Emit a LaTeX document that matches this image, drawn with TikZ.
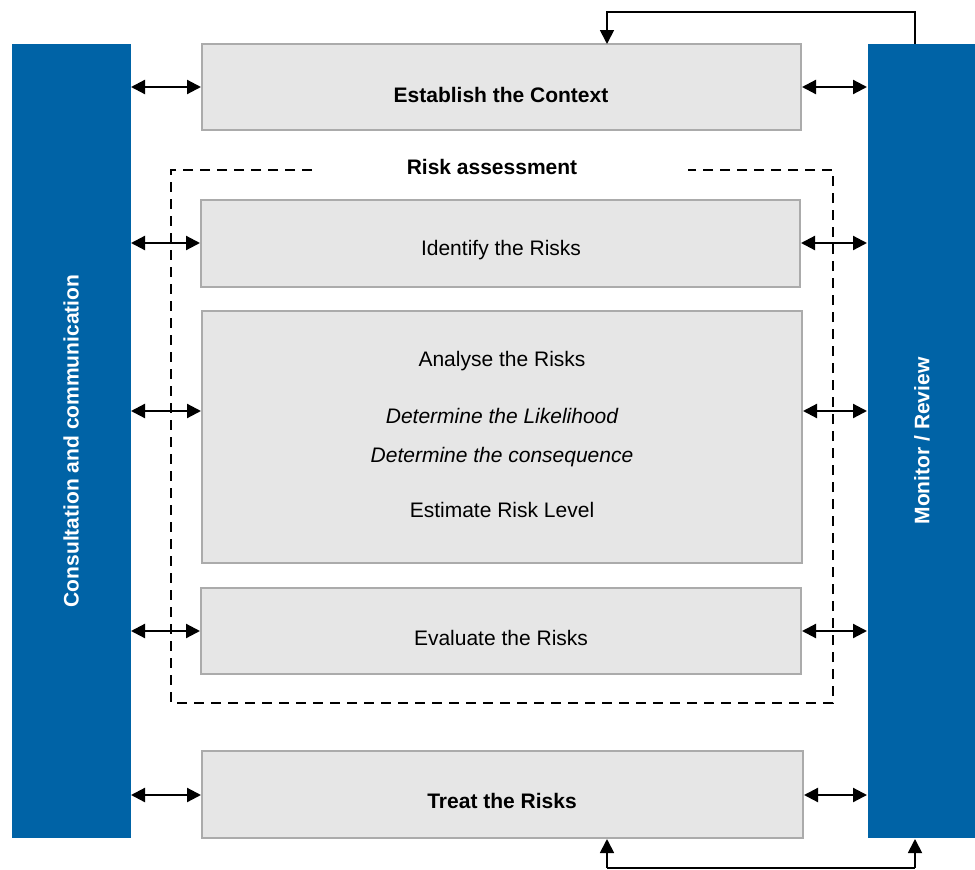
\documentclass[tikz,border=0pt]{standalone}
\usepackage{fontspec}
\setmainfont{Liberation Sans}
\usetikzlibrary{arrows.meta}
\definecolor{barblue}{HTML}{0063A6}
\definecolor{boxgray}{HTML}{E6E6E6}
\definecolor{boxedge}{HTML}{ABABAB}
\begin{document}
\begin{tikzpicture}[x=1pt,y=-1pt,
  bar/.style={fill=barblue,draw=none},
  graybox/.style={fill=boxgray,draw=boxedge,line width=1.2pt},
  txt/.style={font=\fontsize{21}{24}\selectfont,inner sep=0},
  btxt/.style={font=\fontsize{21}{24}\selectfont\bfseries,inner sep=0},
  itxt/.style={font=\fontsize{21}{24}\selectfont\itshape,inner sep=0},
  bartxt/.style={font=\fontsize{21}{24}\selectfont\bfseries,text=white,inner sep=0,rotate=90},
  dbl/.style={{Triangle[length=14pt,width=14pt]}-{Triangle[length=14pt,width=14pt]},line width=2.2pt},
  sgl/.style={-{Triangle[length=14pt,width=14pt]},line width=1.8pt},
  dash box/.style={dash pattern=on 10pt off 7pt,line width=1.8pt}]
\useasboundingbox (0,0) rectangle (975,870);
% bars
\path[bar] (12,44) rectangle (131,838);
\path[bar] (868,44) rectangle (975,838);
\node[bartxt] (cc) at (71,441) {Consultation and communication};
\node[bartxt] (mr) at (922,441) {Monitor / Review};
% dashed risk assessment frame
\draw[dash box] (312,170) -- (171,170) -- (171,703) -- (833,703) -- (833,170) -- (688,170);
\node[btxt] (ra) at (492,167) {Risk assessment};
% boxes
\draw[graybox] (202,44) rectangle (801,130);
\node[btxt] (ec) at (501,95) {Establish the Context};
\draw[graybox] (201,200) rectangle (800,287);
\node[txt] (ir) at (501,250) {Identify the Risks};
\draw[graybox] (202,311) rectangle (802,563);
\node[txt] (ar) at (502,361) {Analyse the Risks};
\node[itxt] (dl) at (502,416) {Determine the Likelihood};
\node[itxt] (dc) at (502,457) {Determine the consequence};
\node[txt] (el) at (502,510) {Estimate Risk Level};
\draw[graybox] (201,588) rectangle (801,674);
\node[txt] (er) at (501,638) {Evaluate the Risks};
\draw[graybox] (202,751) rectangle (803,838);
\node[btxt] (tr) at (502,801) {Treat the Risks};
% left arrows
\draw[dbl] (131,87) -- (201,87);
\draw[dbl] (131,243) -- (200,243);
\draw[dbl] (131,411) -- (201,411);
\draw[dbl] (131,631) -- (200,631);
\draw[dbl] (131,795) -- (201,795);
% right arrows
\draw[dbl] (802,87) -- (867,87);
\draw[dbl] (801,243) -- (867,243);
\draw[dbl] (803,411) -- (867,411);
\draw[dbl] (802,631) -- (867,631);
\draw[dbl] (804,795) -- (867,795);
% loops
\draw[sgl] (915,44) -- (915,12) -- (607,12) -- (607,44);
\draw[line width=1.8pt] (607,868) -- (915,868);
\draw[sgl] (607,868) -- (607,839);
\draw[sgl] (915,868) -- (915,839);
\end{tikzpicture}
\end{document}
